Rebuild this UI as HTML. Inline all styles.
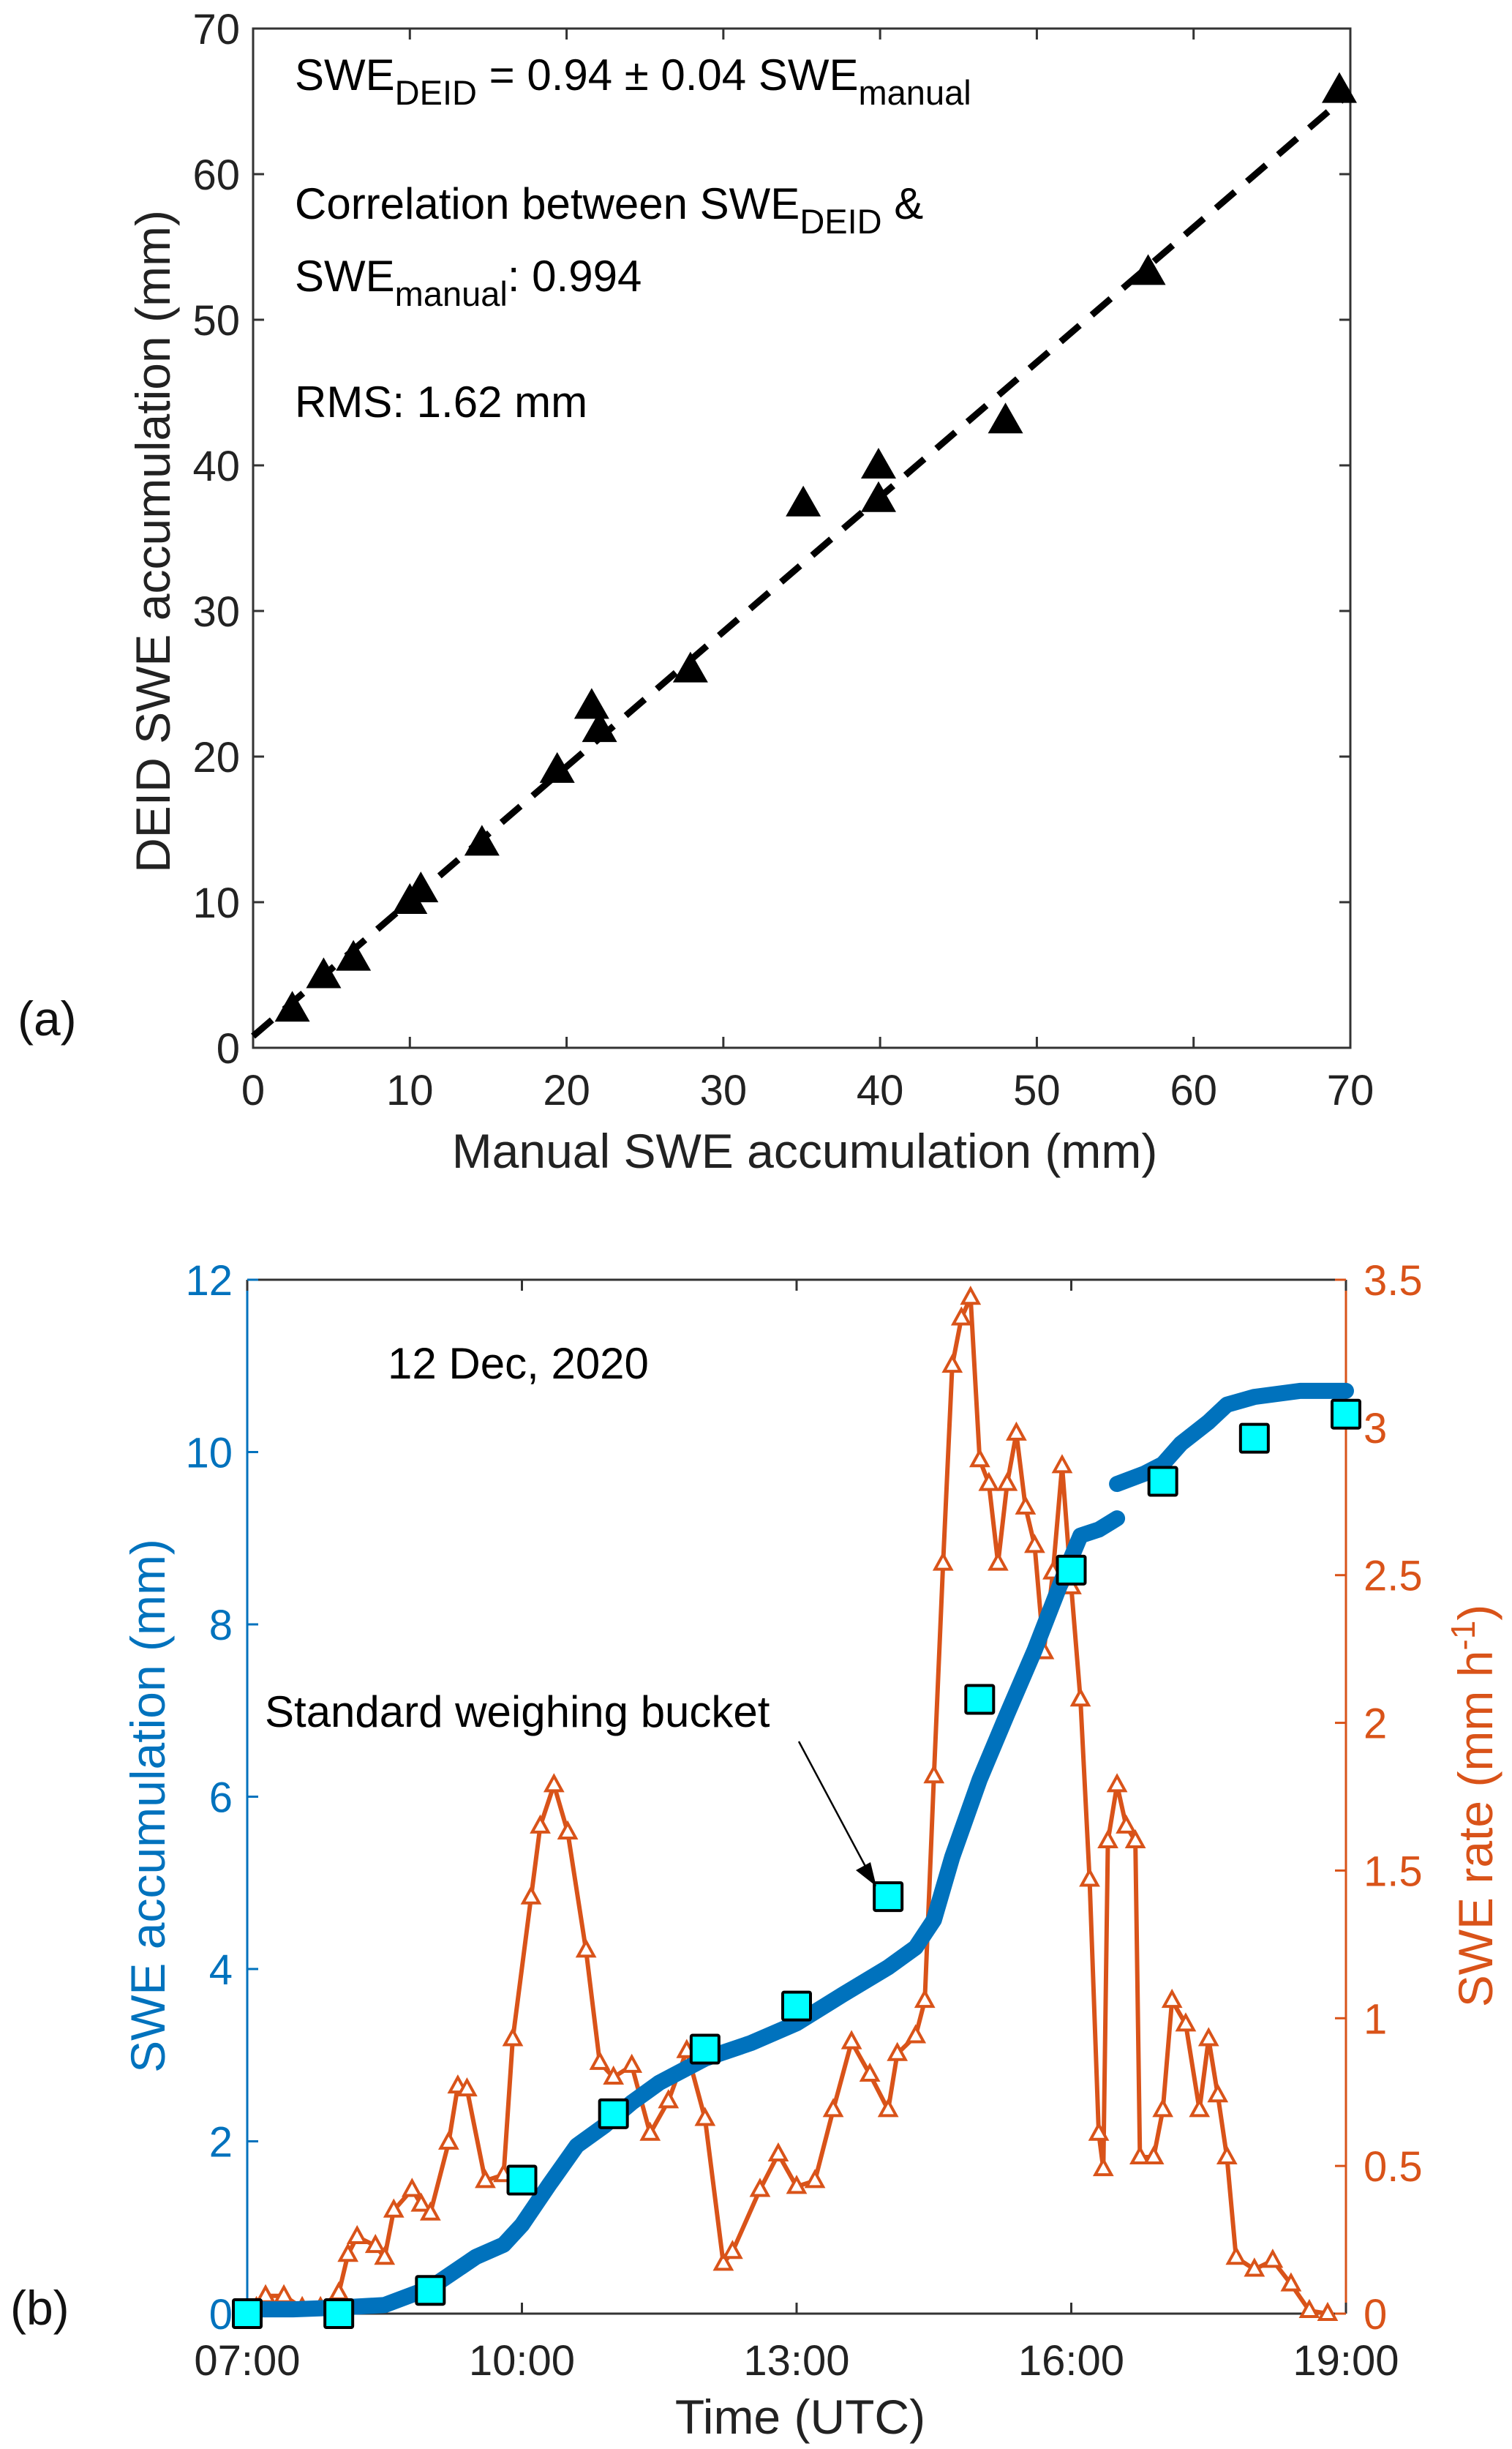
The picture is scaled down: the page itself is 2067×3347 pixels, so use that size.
<!DOCTYPE html>
<html><head><meta charset="utf-8"><style>
html,body{margin:0;padding:0;background:#fff;}
svg{display:block;font-family:"Liberation Sans",sans-serif;}
</style></head><body>
<svg id="fig" width="2067" height="3347" viewBox="0 0 2067 3347" xmlns="http://www.w3.org/2000/svg">
<g id="pa"></g>
<g id="pb"></g>
</svg>
<script>
// ---------- Panel (a) data ----------
const manualSWE = [2.5,4.5,6.4,10.0,10.7,14.6,19.4,21.6,22.1,27.9,35.1,39.9,39.9,48.0,57.1,69.3];
const deidSWE   = [2.6,4.9,6.1,10.0,10.8,14.0,19.0,23.4,21.8,25.9,37.3,39.9,37.6,43.0,53.2,65.7];
const fitLine = [0.8, 65.6]; // y at x=0 and x=70
const aTicks = [0,10,20,30,40,50,60,70];

// ---------- Panel (b) data ----------
const accHours = [7.0,7.5,8.0,8.5,9.0,9.5,9.8,10.0,10.3,10.6,10.9,11.2,11.5,12.0,12.5,13.0,13.5,14.0,14.3,14.5,14.7,15.0,15.3,15.6,15.9,16.1,16.3,16.5];
const accVals  = [0.05,0.05,0.07,0.1,0.3,0.66,0.8,1.03,1.5,1.95,2.18,2.45,2.68,2.96,3.14,3.37,3.7,4.02,4.25,4.57,5.3,6.2,6.96,7.7,8.52,9.03,9.1,9.23];
const acc2Hours = [16.5,16.8,17.0,17.2,17.5,17.7,18.0,18.5,19.0];
const acc2Vals  = [9.63,9.75,9.86,10.1,10.35,10.55,10.64,10.71,10.71];
const bucketHours = [7,8,9,10,11,12,13,14,15,16,17,18,19];
const bucketVals  = [0.0,0.0,0.27,1.55,2.32,3.07,3.57,4.84,7.13,8.63,9.66,10.16,10.44];
const rateHours = [7.1,7.2,7.4,7.6,7.8,8.0,8.1,8.2,8.4,8.5,8.6,8.8,8.9,9.0,9.2,9.3,9.4,9.6,9.8,9.9,10.1,10.2,10.35,10.5,10.7,10.85,11.0,11.2,11.4,11.6,11.8,12.0,12.2,12.3,12.6,12.8,13.0,13.2,13.4,13.6,13.8,14.0,14.1,14.3,14.4,14.5,14.6,14.7,14.8,14.9,15.0,15.1,15.2,15.3,15.4,15.5,15.6,15.7,15.8,15.9,16.0,16.1,16.2,16.3,16.35,16.4,16.5,16.6,16.7,16.75,16.9,17.0,17.1,17.25,17.4,17.5,17.6,17.7,17.8,18.0,18.2,18.4,18.6,18.8];
const rateVals  = [0.02,0.06,0.06,0.02,0.02,0.07,0.2,0.26,0.23,0.19,0.35,0.42,0.37,0.34,0.58,0.77,0.76,0.45,0.47,0.93,1.41,1.65,1.79,1.63,1.23,0.85,0.8,0.84,0.61,0.72,0.89,0.66,0.17,0.21,0.42,0.54,0.43,0.45,0.69,0.92,0.81,0.69,0.88,0.94,1.06,1.82,2.54,3.21,3.37,3.44,2.89,2.81,2.54,2.81,2.98,2.73,2.6,2.24,2.51,2.87,2.46,2.08,1.47,0.61,0.49,1.6,1.79,1.65,1.6,0.53,0.53,0.69,1.06,0.98,0.69,0.93,0.74,0.53,0.19,0.15,0.18,0.1,0.01,0.0];
const timeTicks = [7,10,13,16,19];
const timeLabels = ["07:00","10:00","13:00","16:00","19:00"];
const leftTicks = [0,2,4,6,8,10,12];
const rightTicks = [0,0.5,1,1.5,2,2.5,3,3.5];
const rightLabels = ["0","0.5","1","1.5","2","2.5","3","3.5"];

const NS="http://www.w3.org/2000/svg";
function mk(parent,tag,attrs,text){const e=document.createElementNS(NS,tag);for(const k in attrs)e.setAttribute(k,attrs[k]);if(text!==undefined)e.textContent=text;parent.appendChild(e);return e;}

// ---------- Panel (a) ----------
(function(){
const g=document.getElementById('pa');
const L=346,R=1846,T=39,B=1432;
const xs=v=>L+(v/70)*(R-L), ys=v=>B-(v/70)*(B-T);
let e;
e=mk(g,'rect',{x:L,y:T,width:R-L,height:B-T,fill:'none',stroke:'#333','stroke-width':3});

aTicks.forEach(v=>{
  e=mk(g,'path',{d:`M${xs(v)},${B}v-15M${xs(v)},${T}v15M${L},${ys(v)}h15M${R},${ys(v)}h-15`,stroke:'#333','stroke-width':3});
  
  e=mk(g,'text',{x:xs(v),y:1510,'font-size':58,'text-anchor':'middle',fill:'#222'},String(v));
  
  e=mk(g,'text',{x:328,y:ys(v)+21,'font-size':58,'text-anchor':'end',fill:'#222'},String(v));
  
});
e=mk(g,'line',{x1:xs(0),y1:ys(fitLine[0]),x2:xs(70),y2:ys(fitLine[1]),stroke:'#000','stroke-width':9,'stroke-dasharray':'34 22'});

manualSWE.forEach((m,i)=>{
  const cx=xs(m),cy=ys(deidSWE[i]);
  e=mk(g,'polygon',{points:`${cx},${cy-26} ${cx-24},${cy+16} ${cx+24},${cy+16}`,fill:'#000'});
  
});
e=mk(g,'text',{x:403,y:123,'font-size':60,fill:'#000'});

e.innerHTML='SWE<tspan font-size="47" dy="20">DEID</tspan><tspan dy="-20"> = 0.94 ± 0.04 SWE</tspan><tspan font-size="47" dy="20">manual</tspan>';
e=mk(g,'text',{x:403,y:299,'font-size':60,fill:'#000'});

e.innerHTML='Correlation between SWE<tspan font-size="47" dy="20">DEID</tspan><tspan dy="-20"> &amp;</tspan>';
e=mk(g,'text',{x:403,y:398,'font-size':60,fill:'#000'});

e.innerHTML='SWE<tspan font-size="47" dy="20">manual</tspan><tspan dy="-20">: 0.994</tspan>';
e=mk(g,'text',{x:403,y:570,'font-size':60,fill:'#000'},'RMS: 1.62 mm');

e=mk(g,'text',{x:1100,y:1596,'font-size':66,'text-anchor':'middle',fill:'#222'},'Manual SWE accumulation (mm)');

e=mk(g,'text',{x:0,y:0,'font-size':66,'text-anchor':'middle',fill:'#222',transform:'translate(232,740) rotate(-90)'},'DEID SWE accumulation (mm)');

e=mk(g,'text',{x:24,y:1415,'font-size':66,fill:'#111'},'(a)');

})();

// ---------- Panel (b) ----------
(function(){
const g=document.getElementById('pb');
const L=338,R=1840,T=1749,B=3162;
const xs=h=>L+(h-7)/12*(R-L), yl=v=>B-v/12*(B-T), yr=v=>B-v/3.5*(B-T);
const blue='#0072BD', org='#D95319';
let e;
e=mk(g,'path',{d:`M${L},${T}H${R}M${L},${B}H${R}`,stroke:'#333','stroke-width':3,fill:'none'});

e=mk(g,'line',{x1:L,y1:T,x2:L,y2:B,stroke:blue,'stroke-width':3});

e=mk(g,'line',{x1:R,y1:T,x2:R,y2:B,stroke:org,'stroke-width':3});

timeTicks.forEach((h,i)=>{
  e=mk(g,'path',{d:`M${xs(h)},${B}v-15M${xs(h)},${T}v15`,stroke:'#333','stroke-width':3});
  
  e=mk(g,'text',{x:xs(h),y:3246,'font-size':58,'text-anchor':'middle',fill:'#222'},timeLabels[i]);
  
});
leftTicks.forEach(v=>{
  e=mk(g,'line',{x1:L,y1:yl(v),x2:L+15,y2:yl(v),stroke:blue,'stroke-width':3});
  
  e=mk(g,'text',{x:318,y:yl(v)+21,'font-size':58,'text-anchor':'end',fill:blue},String(v));
  
});
rightTicks.forEach((v,i)=>{
  e=mk(g,'line',{x1:R,y1:yr(v),x2:R-15,y2:yr(v),stroke:org,'stroke-width':3});
  
  e=mk(g,'text',{x:1864,y:yr(v)+21,'font-size':58,'text-anchor':'start',fill:org},rightLabels[i]);
  
});
// rate series
let d=rateHours.map((h,i)=>(i?'L':'M')+xs(h)+','+yr(rateVals[i])).join('');
e=mk(g,'path',{d:d,fill:'none',stroke:org,'stroke-width':6,'stroke-linejoin':'round'});

rateHours.forEach((h,i)=>{
  const cx=xs(h),cy=yr(rateVals[i]);
  e=mk(g,'polygon',{points:`${cx},${cy-12} ${cx-11},${cy+8} ${cx+11},${cy+8}`,fill:'#fff',stroke:org,'stroke-width':4});
  
});
// accumulation series
[[accHours,accVals],[acc2Hours,acc2Vals]].forEach(([hs,vs])=>{
  const dd=hs.map((h,i)=>(i?'L':'M')+xs(h)+','+yl(vs[i])).join('');
  e=mk(g,'path',{d:dd,fill:'none',stroke:blue,'stroke-width':22,'stroke-linecap':'round','stroke-linejoin':'round'});
  
});
bucketHours.forEach((h,i)=>{
  e=mk(g,'rect',{x:xs(h)-19,y:yl(bucketVals[i])-19,width:38,height:38,fill:'#00FFFF',stroke:'#000','stroke-width':4,rx:2});
  
});
e=mk(g,'text',{x:530,y:1884,'font-size':60,fill:'#000'},'12 Dec, 2020');

e=mk(g,'text',{x:362,y:2360,'font-size':60,fill:'#000'},'Standard weighing bucket');

e=mk(g,'line',{x1:1092,y1:2380,x2:1188,y2:2560,stroke:'#000','stroke-width':2.5});

e=mk(g,'polygon',{points:'1198,2578 1170,2556 1190,2545',fill:'#000'});

e=mk(g,'text',{x:1094,y:3326,'font-size':66,'text-anchor':'middle',fill:'#222'},'Time (UTC)');

e=mk(g,'text',{x:0,y:0,'font-size':66,'text-anchor':'middle',fill:blue,transform:'translate(225,2468) rotate(-90)'},'SWE accumulation (mm)');

e=mk(g,'text',{x:0,y:0,'font-size':66,'text-anchor':'middle',fill:org,transform:'translate(2040,2468) rotate(-90)'});

e.innerHTML='SWE rate (mm h<tspan font-size="46" dy="-24">-1</tspan><tspan dy="24">)</tspan>';
e=mk(g,'text',{x:14,y:3177,'font-size':66,fill:'#111'},'(b)');

})();
</script>
</body></html>
